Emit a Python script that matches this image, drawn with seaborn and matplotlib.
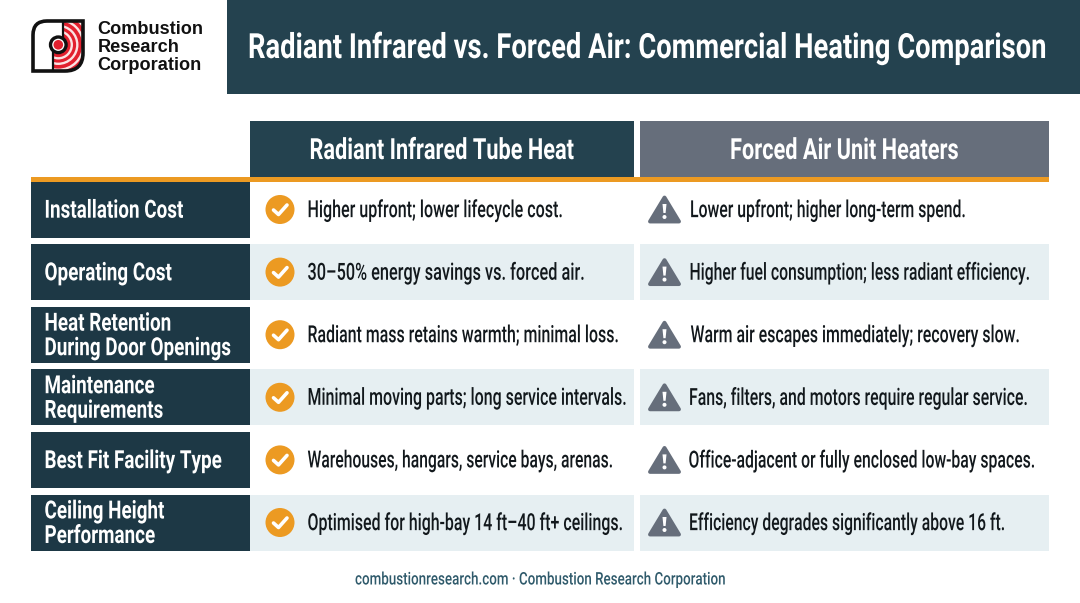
import matplotlib
matplotlib.use("Agg")
import matplotlib.pyplot as plt
from matplotlib.patches import Rectangle, Circle, PathPatch, Polygon
from matplotlib.path import Path
from matplotlib.patheffects import AbstractPathEffect
from matplotlib.transforms import Affine2D, Bbox
import seaborn as sns

sns.set_theme(style="white")
plt.rcParams["font.family"] = ["Roboto", "DejaVu Sans"]

title = "Radiant Infrared vs. Forced Air: Commercial Heating Comparison"
logo_lines = ["Combustion", "Research", "Corporation"]
col_heads = ["Radiant Infrared Tube Heat", "Forced Air Unit Heaters"]
row_labels = ["Installation Cost", "Operating Cost", "Heat Retention\nDuring Door Openings",
              "Maintenance\nRequirements", "Best Fit Facility Type", "Ceiling Height\nPerformance"]
radiant = ["Higher upfront; lower lifecycle cost.",
           "30–50% energy savings vs. forced air.",
           "Radiant mass retains warmth; minimal loss.",
           "Minimal moving parts; long service intervals.",
           "Warehouses, hangars, service bays, arenas.",
           "Optimised for high-bay 14 ft–40 ft+ ceilings."]
forced = ["Lower upfront; higher long-term spend.",
          "Higher fuel consumption; less radiant efficiency.",
          "Warm air escapes immediately; recovery slow.",
          "Fans, filters, and motors require regular service.",
          "Office-adjacent or fully enclosed low-bay spaces.",
          "Efficiency degrades significantly above 16 ft."]
footer = "combustionresearch.com · Combustion Research Corporation"

# layout: text extents, in pixels
radiant_spans = [(307.5, 563), (307.5, 585), (307.5, 619), (307.5, 627), (307.5, 613), (307.5, 623)]
forced_spans = [(690, 966), (689.5, 1030), (690.5, 1020), (689, 1028), (688.5, 1035), (689, 1005)]

NAVY = "#1d3845"; HEAD = "#24424f"; SLATE = "#666e7b"; ORANGE = "#ec9a22"; BAND = "#e6eff2"; INK = "#12181c"; RED = "#e2202e"

fig = plt.figure(figsize=(10.8, 6.03), dpi=100, facecolor="white")
ax = fig.add_axes([0, 0, 1, 1])
ax.set_xlim(0, 1080); ax.set_ylim(603, 0); ax.axis("off")


class Squeeze(AbstractPathEffect):
    """Narrow a text horizontally about display x0 (no condensed family is installed)."""
    def __init__(self, x0, sx):
        super().__init__()
        self.x0, self.sx = x0, sx

    def draw_path(self, renderer, gc, tpath, affine, rgbFace=None):
        a = affine + Affine2D().translate(-self.x0, 0).scale(self.sx, 1).translate(self.x0, 0)
        renderer.draw_path(gc, tpath, a, rgbFace)


def natural_width(s, size, **kw):
    t = ax.text(0, 0, s, fontsize=size, **kw)
    w = t.get_window_extent(fig.canvas.get_renderer()).width
    t.remove()
    return w


def ctext(x, y, s, size, sx, ha="left", **kw):
    t = ax.text(x, y, s, fontsize=size, ha=ha, va="center", zorder=6, **kw)
    t.set_path_effects([Squeeze(x, sx)])
    orig = t.get_window_extent

    def extent(renderer=None, dpi=None):
        b = orig(renderer, dpi)
        return Bbox([[x + (b.x0 - x) * sx, b.y0], [x + (b.x1 - x) * sx, b.y1]])
    t.get_window_extent = extent
    return t


def box(x0, y0, x1, y1, c, z=1):
    ax.add_patch(Rectangle((x0, y0), x1 - x0, y1 - y0, fc=c, ec="none", zorder=z))


# header band
box(227, 0, 1080, 94, HEAD)
sx = 799 / natural_width(title, 25, fontweight="bold")
ctext(248, 48, title, 25, sx, color="white", fontweight="bold")

# logo
BLK = "#111111"
C, P, L, CL = Path.MOVETO, Path.CURVE3, Path.LINETO, Path.CLOSEPOLY
outer = Path([(33, 71), (33, 35), (33, 21), (47, 21), (83, 21), (83, 53), (83, 71), (65, 71), (33, 71), (33, 71)],
             [C, L, P, P, L, L, P, P, L, CL])
red_reg = Path([(63, 21), (83, 21), (83, 53), (83, 71), (65, 71), (52.5, 71), (52.5, 45), (63, 45), (63, 21)],
               [C, L, L, P, P, L, L, L, CL])
ax.add_patch(PathPatch(outer, fc="white", ec="none", zorder=2))
reg = PathPatch(red_reg, fc=RED, ec="none", zorder=3)
ax.add_patch(reg)
for rad in [37, 31, 25, 19, 13.5]:
    c = Circle((58.3, 44.8), rad, fc="none", ec="#fbe3e3", lw=1.7, zorder=3.5)
    ax.add_patch(c)
    c.set_clip_path(reg)
ax.add_patch(PathPatch(outer, fc="none", ec=BLK, lw=2.6, zorder=4))
ax.plot([52.5, 52.5], [50, 71], color=BLK, lw=1.6, zorder=4)
ax.plot([63, 63], [21, 40], color=BLK, lw=1.6, zorder=4)
ax.add_patch(Circle((58.3, 44.8), 7.8, fc="white", ec=BLK, lw=2.4, zorder=5))
ax.add_patch(Circle((58.3, 44.8), 4.8, fc=RED, ec="none", zorder=6))
for i, line in enumerate(logo_lines):
    ax.text(97.5, 29.2 + i * 18.2, line, fontsize=13.1, family=["Liberation Sans", "DejaVu Sans"],
            fontweight="bold", color=BLK, va="center", zorder=5)

# column heads
box(250, 121, 634, 177, HEAD)
box(640, 121, 1049, 177, SLATE)
sx = 265 / natural_width(col_heads[0], 21, fontweight="bold")
ctext(442, 151, col_heads[0], 21, sx, ha="center", color="white", fontweight="bold")
ctext(844.5, 151, col_heads[1], 21, sx, ha="center", color="white", fontweight="bold")
box(31, 177, 1049, 181.5, ORANGE, 3)

# rows
lab_sx = 139 / natural_width(row_labels[0], 18, fontweight="bold")
for i, (lab, a, b) in enumerate(zip(row_labels, radiant, forced)):
    y0 = 181.5 + i * 62.6
    y1 = y0 + 56
    yc = (y0 + y1) / 2
    box(31, y0, 250, y1, NAVY)
    if i % 2 == 1:
        box(250, y0, 634, y1, BAND)
        box(640, y0, 1049, y1, BAND)
    ctext(44.5, yc + 1.2, lab, 18, lab_sx, color="white", fontweight="bold", linespacing=1.03)
    ax.add_patch(Circle((280, yc), 14.5, fc=ORANGE, ec="none", zorder=4))
    ax.plot([273.5, 278.5, 287], [yc + 0.5, yc + 5, yc - 4.5], color="white", lw=2.6, zorder=5,
            solid_capstyle="round", solid_joinstyle="round")
    xa0, xa1 = radiant_spans[i]
    ctext(xa0, yc + 1, a, 17, (xa1 - xa0) / natural_width(a, 17, fontweight="medium"), color=INK, fontweight="medium")
    ax.add_patch(Polygon([(664.5, yc - 12), (679, yc + 12), (650, yc + 12)], closed=True, fc=SLATE, ec=SLATE,
                         lw=2.8, joinstyle="round", zorder=4))
    ax.add_patch(Polygon([(662.5, yc - 5.5), (666.5, yc - 5.5), (665.6, yc + 3.5), (663.4, yc + 3.5)], closed=True,
                         fc="white", ec="none", zorder=5))
    ax.add_patch(Circle((664.5, yc + 7.5), 2, fc="white", ec="none", zorder=5))
    xb0, xb1 = forced_spans[i]
    ctext(xb0, yc + 1, b, 17, (xb1 - xb0) / natural_width(b, 17, fontweight="medium"), color=INK, fontweight="medium")

sx = 370 / natural_width(footer, 12.5, fontweight="medium")
ctext(540, 580, footer, 12.5, sx, ha="center", color="#2f5a6b", fontweight="medium")
fig.savefig("out.png", dpi=100)
